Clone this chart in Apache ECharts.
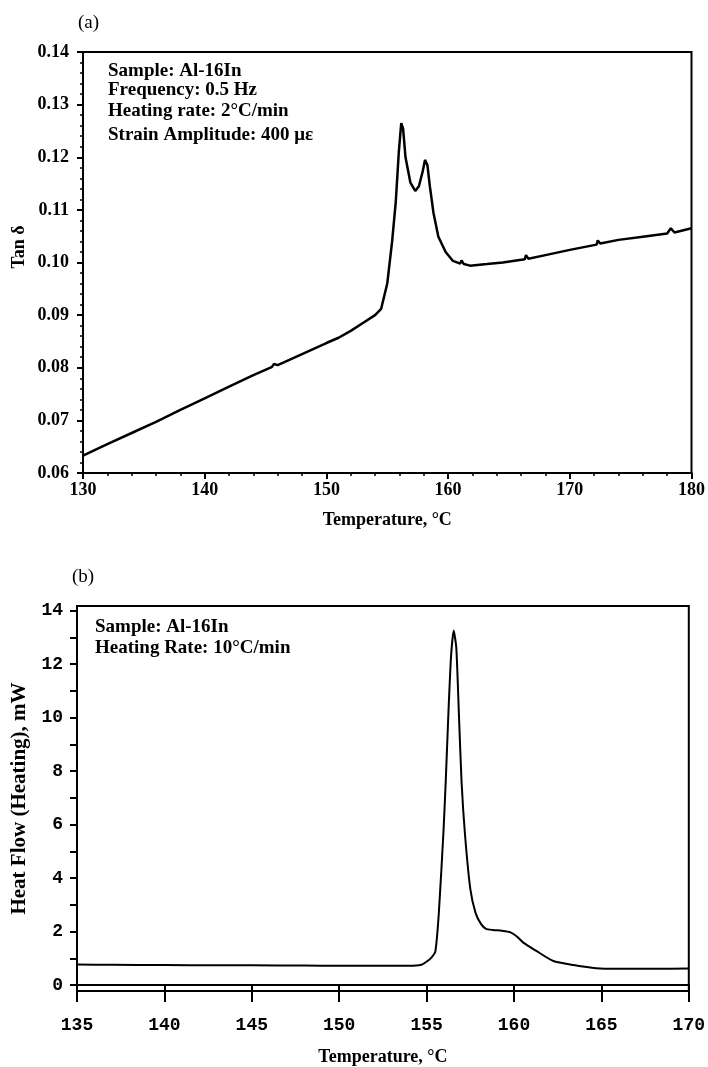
<!DOCTYPE html>
<html>
<head>
<meta charset="utf-8">
<title>Al-16In</title>
<script src="https://cdn.jsdelivr.net/npm/echarts@6.0.0/dist/echarts.min.js"></script>
<style>
html, body { margin: 0; padding: 0; background: #fff; }
#chart { width: 708px; height: 1067px; }
</style>
</head>
<body>
<div id="chart"></div>
<script>
// (a) damping, tan delta vs temperature
const tempA = [130, 132, 134, 136, 138, 140, 142, 144, 145.5, 145.7, 146, 148, 150, 151, 152, 153, 154, 154.5,
  155.0, 155.4, 155.7, 155.95, 156.15, 156.3, 156.5, 156.9, 157.3, 157.6, 157.9, 158.1, 158.3, 158.5, 158.8,
  159.2, 159.8, 160.4, 161.0, 161.1, 161.3, 161.8, 163.2, 164.5, 166.3, 166.4, 166.6, 168, 170, 172.2, 172.3,
  172.5, 174, 176, 178, 178.3, 178.6, 180];
const tanDelta = [0.0633, 0.0655, 0.0676, 0.0697, 0.0720, 0.0742, 0.0764, 0.0786, 0.0801, 0.0807, 0.0805, 0.0826,
  0.0847, 0.0857, 0.0870, 0.0885, 0.0900, 0.0912,
  0.0960, 0.1040, 0.1115, 0.1210, 0.1265, 0.1255, 0.1200, 0.1152, 0.1136, 0.1145, 0.1172, 0.1195, 0.1185, 0.1145, 0.1094,
  0.1049, 0.1020, 0.1003, 0.0998, 0.1004, 0.0997, 0.0994, 0.0997, 0.1000, 0.1006, 0.1014, 0.1007, 0.1014, 0.1024, 0.1034, 0.1042,
  0.1036, 0.1043, 0.1049, 0.1055, 0.1065, 0.1057, 0.1065];

// (b) DSC heat flow vs temperature
const tempB = [135, 137, 140, 143, 145, 148, 150, 152, 154, 154.7, 155.05, 155.3, 155.5, 155.7, 155.97, 156.1,
  156.25, 156.4, 156.55, 156.7, 156.85, 157.0, 157.2, 157.5, 157.8, 158.1, 158.4, 158.8, 159.3, 159.8, 160.2,
  160.55, 161.3, 162.25, 163.4, 164.7, 166, 168, 170];
const heatFlow = [0.77, 0.76, 0.75, 0.74, 0.74, 0.73, 0.72, 0.72, 0.72, 0.76, 0.9, 1.05, 1.25, 2.7, 5.8, 7.7,
  10.2, 12.3, 13.25, 12.6, 10.1, 7.6, 5.6, 3.6, 2.7, 2.3, 2.1, 2.06, 2.03, 1.97, 1.8,
  1.58, 1.27, 0.9, 0.75, 0.63, 0.61, 0.61, 0.62];

const heatLabels = [0, 2, 4, 6, 8, 10, 12, 14];
const heatTicks = [0, 1, 2, 3, 4, 5, 6, 7, 8, 9, 10, 11, 12, 13, 14];

const notesA = ['Sample: Al-16In', 'Frequency: 0.5 Hz', 'Heating rate: 2°C/min', 'Strain Amplitude: 400 με'];
const notesB = ['Sample: Al-16In', 'Heating Rate: 10°C/min'];

const serif = '"Liberation Serif", "Times New Roman", serif';
const mono = '"Liberation Mono", "Courier New", monospace';

const zip = (xs, ys) => xs.map((x, i) => [x, ys[i]]);

const note = (text, x, y, size) => ({
  type: 'text', x: x, y: y,
  style: { text: text, font: 'bold ' + size + 'px ' + serif, fill: '#000', textAlign: 'left', textVerticalAlign: 'middle' }
});

let graphics = [
  { type: 'text', x: 78, y: 23, style: { text: '(a)', font: '19px ' + serif, fill: '#000', textVerticalAlign: 'middle' } },
  { type: 'text', x: 72, y: 577, style: { text: '(b)', font: '19px ' + serif, fill: '#000', textVerticalAlign: 'middle' } },
  { type: 'text', x: 19, y: 247, rotation: Math.PI / 2,
    style: { text: 'Tan δ', font: 'bold 18px ' + serif, fill: '#000', textAlign: 'center', textVerticalAlign: 'middle' } }
];
const ysA = [71, 90, 111, 135];
notesA.forEach((t, i) => graphics.push(note(t, 108, ysA[i], 19)));
const ysB = [627, 648];
notesB.forEach((t, i) => graphics.push(note(t, 95, ysB[i], 19)));

let chart = echarts.init(document.getElementById('chart'));

let option = {
  backgroundColor: '#fff',
  animation: false,
  grid: [
    { left: 83, top: 52, width: 613, height: 421, show: true, borderColor: '#000', borderWidth: 2, backgroundColor: 'transparent' },
    { left: 77, top: 606, width: 616, height: 386, show: true, borderColor: '#000', borderWidth: 2, backgroundColor: 'transparent' }
  ],
  xAxis: [
    {
      gridIndex: 0, type: 'value', min: 130, max: 180, interval: 10,
      name: 'Temperature, °C', nameLocation: 'middle', nameGap: 38,
      nameTextStyle: { fontFamily: serif, fontWeight: 'bold', fontSize: 18, color: '#000' },
      axisLine: { lineStyle: { color: '#000', width: 2 } },
      axisTick: { inside: false, length: 6, lineStyle: { color: '#000', width: 2 } },
      minorTick: { show: true, splitNumber: 5, length: 3, lineStyle: { color: '#000', width: 1.5 } },
      axisLabel: { margin: 8, fontFamily: serif, fontWeight: 'bold', fontSize: 18, color: '#000' },
      splitLine: { show: false }
    },
    {
      gridIndex: 1, type: 'value', min: 135, max: 170, interval: 5,
      name: 'Temperature, °C', nameLocation: 'middle', nameGap: 57,
      nameTextStyle: { fontFamily: serif, fontWeight: 'bold', fontSize: 18, color: '#000' },
      axisLine: { lineStyle: { color: '#000', width: 2 } },
      axisTick: { inside: false, length: 17, lineStyle: { color: '#000', width: 2 } },
      axisLabel: { margin: 25, fontFamily: mono, fontWeight: 'bold', fontSize: 18, color: '#000' },
      splitLine: { show: false }
    }
  ],
  yAxis: [
    {
      gridIndex: 0, type: 'value', min: 0.06, max: 0.14, interval: 0.01,
      axisLine: { show: true, lineStyle: { color: '#000', width: 2 } },
      axisTick: { inside: false, length: 6, lineStyle: { color: '#000', width: 2 } },
      minorTick: { show: true, splitNumber: 5, length: 3, lineStyle: { color: '#000', width: 1.5 } },
      axisLabel: { margin: 14, fontFamily: serif, fontWeight: 'bold', fontSize: 18, color: '#000',
        formatter: v => v.toFixed(2) },
      splitLine: { show: false }
    },
    {
      gridIndex: 1, type: 'value', min: -0.22, max: 14.17,
      name: 'Heat Flow (Heating), mW', nameLocation: 'middle', nameGap: 46,
      nameTextStyle: { fontFamily: serif, fontWeight: 'bold', fontSize: 21, color: '#000' },
      axisLine: { show: true, lineStyle: { color: '#000', width: 2 } },
      axisTick: { inside: false, length: 7, customValues: heatTicks, lineStyle: { color: '#000', width: 2 } },
      axisLabel: { margin: 14, customValues: heatLabels, fontFamily: mono, fontWeight: 'bold', fontSize: 18, color: '#000' },
      splitLine: { show: false }
    }
  ],
  graphic: graphics,
  series: [
    {
      type: 'line', xAxisIndex: 0, yAxisIndex: 0, data: zip(tempA, tanDelta),
      showSymbol: false, lineStyle: { color: '#000', width: 2.5 }
    },
    {
      type: 'line', xAxisIndex: 1, yAxisIndex: 1, data: zip(tempB, heatFlow),
      showSymbol: false, smooth: 0.2, lineStyle: { color: '#000', width: 2 }
    }
  ]
};

chart.setOption(option);
</script>
</body>
</html>
